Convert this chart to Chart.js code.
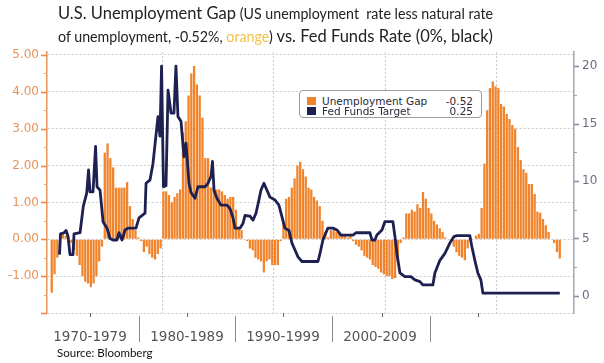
<!DOCTYPE html>
<html><head><meta charset="utf-8">
<script src="https://cdn.jsdelivr.net/npm/chart.js@4.4.1/dist/chart.umd.min.js"></script>
<style>
html,body{margin:0;padding:0;background:#fff;width:604px;height:363px;overflow:hidden;position:relative}
#c{position:absolute;left:0;top:0}
.title{position:absolute;left:58px;white-space:nowrap;font-family:Lato,sans-serif;color:#222;transform-origin:0 0;line-height:20px}
.big{font-size:18px}
.sm{font-size:15.5px}
#legend{position:absolute;left:299px;top:90px;width:181px;height:26px;border:1.5px solid #9c9c9c;border-radius:4px;background:#fff;font-family:'DejaVu Sans',sans-serif;font-size:10.5px;color:#2a2a38}
.row{position:absolute;left:0;right:0;height:11px;line-height:11px}
.sw{position:absolute;left:7px;top:1px;width:9px;height:8px}
.lab{position:absolute;left:22px}
.val{position:absolute;right:8px}
.dec{position:absolute;top:327px;width:96px;text-align:center;font-family:'DejaVu Sans',sans-serif;font-size:13.5px;color:#555;line-height:18px}
.sep{position:absolute;top:316px;width:1px;height:26px;background:#8a8a8a}
.btk{position:absolute;top:313px;width:1px;height:4px;background:#666}
#src{position:absolute;left:57px;top:346px;font-family:Lato,sans-serif;font-size:11.5px;color:#111}
</style></head><body>
<canvas id="c" width="604" height="363"></canvas>
<div id="t1" class="title" style="top:2px"><span class="big">U.S. Unemployment Gap</span> <span class="sm">(US unemployment&nbsp; rate less natural rate</span></div>
<div id="t2" class="title" style="top:25px"><span class="sm">of unemployment, -0.52%, <span style="color:#f2c04a">orange</span>)</span><span class="big"> vs. Fed Funds Rate (0%, black)</span></div>
<div id="legend">
 <div class="row" style="top:5px"><span class="sw" style="background:#f0842c"></span><span class="lab">Unemployment Gap</span><span class="val" id="v1"></span></div>
 <div class="row" style="top:15px"><span class="sw" style="background:#1d2050"></span><span class="lab">Fed Funds Target</span><span class="val" id="v2"></span></div>
</div>
<div id="bottom"></div>
<div id="src">Source: Bloomberg</div>
<script>
// ---- DATA ----
const gapStartYear = 1970; // quarterly, first value = 1970 Q1
const gapQuarterly = [
 -1.45,-0.95,-0.5,0.15, 0.15,0.1,0.05,-0.1, -0.3,-0.45,-0.7,-1.0, -1.15,-1.2,-1.3,-1.2, -1.0,-0.6,-0.2,2.35,
 2.6,2.2,1.95,1.4, 1.4,1.4,1.4,1.55, 0.9,0.55,0.25,0.05, -0.05,-0.35,-0.2,-0.4, -0.5,-0.55,-0.4,-0.25,
 1.3,1.3,1.2,1.0, 1.15,1.25,1.35,2.9, 3.2,3.9,4.5,4.7, 4.2,3.9,3.3,2.2, 2.2,1.4,1.4,1.35,
 1.35,1.3,1.2,1.1, 1.15,1.15,0.8,0.3, 0.25,0.0,-0.05,-0.25, -0.3,-0.5,-0.55,-0.6, -0.9,-0.6,-0.55,-0.7,
 -0.7,-0.7,-0.05,0.45, 1.1,1.15,1.4,1.65, 2.0,2.1,1.9,1.7, 1.4,1.35,1.15,1.05, 0.9,0.5,0.2,0.05,
 0.25,0.25,0.2,0.2, 0.1,0.1,0.05,0.15, -0.05,-0.15,-0.2,-0.3, -0.45,-0.5,-0.55,-0.7, -0.75,-0.8,-0.9,-0.95,
 -1.0,-1.0,-1.08,-1.05, -0.6,-0.1,0.05,0.7, 0.7,0.8,0.75,0.95, 0.85,1.28,1.1,0.85, 0.7,0.5,0.4,0.3,
 0.2,0.05,0.0,-0.05, -0.2,-0.35,-0.45,-0.5, -0.57,-0.25,-0.05,0.0, 0.1,0.15,0.85,2.05, 3.5,4.1,4.28,4.15,
 4.1,3.67,3.6,3.4, 3.26,3.1,3.0,2.5, 2.15,1.9,1.8,1.5, 1.5,1.23,0.75,0.72, 0.55,0.38,0.2,0.0,
 -0.1,-0.35,-0.52
];
const fedDates = [1970.82,1970.91,1971.23,1971.41,1971.58,1971.76,1972.03,1972.12,1972.66,1972.95,
 1973.26,1973.42,1973.55,1973.82,1974.05,1974.18,1974.45,1974.72,1975.08,1975.34,
 1975.61,1975.97,1976.15,1976.42,1976.69,1976.96,1977.67,1977.94,1978.48,1978.57,
 1978.93,1979.19,1979.64,1979.82,1979.96,1980.13,1980.36,1980.54,1980.81,1981.07,
 1981.25,1981.43,1981.70,1981.97,1982.15,1982.42,1982.60,1982.95,1983.22,1983.85,
 1984.12,1984.39,1984.52,1984.66,1984.92,1985.28,1985.82,1986.09,1986.36,1986.54,
 1986.98,1987.25,1987.43,1987.88,1988.15,1988.42,1988.68,1988.86,1989.13,1989.40,
 1989.67,1990.12,1990.47,1990.74,1991.01,1991.37,1991.64,1991.91,1992.18,1992.53,
 1993.97,1994.15,1994.41,1994.68,1994.86,1995.31,1995.67,1996.03,1997.10,1997.37,
 1998.62,1998.80,1999.07,1999.25,1999.70,1999.96,2000.68,2000.86,2001.04,2001.31,
 2001.75,2002.29,2002.65,2003.10,2003.37,2004.26,2004.44,2004.89,2005.34,2005.78,
 2006.14,2006.41,2007.57,2007.75,2008.02,2008.29,2008.56,2008.74,2015.63];
const fedRates = [3.6,5.4,5.5,5.7,5.2,3.6,3.6,5.4,5.5,7.8,
 8.96,10.96,9.05,9.05,13.0,9.5,9.2,6.46,5.9,5.0,
 4.87,4.87,5.5,4.87,5.74,5.9,5.9,6.8,7.2,9.8,
 10.1,11.5,15.6,13.9,20,9.5,9.6,17.9,15.9,15.9,
 20,15.6,15.2,12.1,13.3,9.8,9.0,8.5,9.5,9.5,
 9.8,10.4,11.7,9.2,8.5,7.9,7.9,7.6,6.8,5.9,
 5.9,6.3,7.0,6.95,6.6,7.2,8.35,9.2,9.8,9.2,
 8.6,8.35,7.9,6.9,5.9,5.7,4.6,4.0,3.4,3.0,
 3.0,3.7,4.87,5.5,5.9,5.9,5.74,5.3,5.3,5.5,
 5.5,4.87,4.87,5.3,5.74,6.46,6.46,5.2,3.7,2.0,
 1.68,1.68,1.4,1.25,0.96,0.96,2.0,3.1,3.7,4.6,
 5.16,5.25,5.25,4.3,3.1,2.0,1.4,0.25,0.25];
const leftTicks = [-2,-1,0,1,2,3,4,5];
const leftMinor = [-1.5,-0.5,0.5,1.5,2.5,3.5,4.5];
const rightTicks = [0,5,10,15,20];
const rightMinor = [2.5,7.5,12.5,17.5];
const gridYears = [1980,1990,2000,2010];
const decadeLabels = ['1970-1979','1980-1989','1990-1999','2000-2009'];
const seriesNames = ['Unemployment Gap','Fed Funds Target'];

// ---- overlays ----
document.getElementById('v1').textContent = gapQuarterly[gapQuarterly.length-1].toFixed(2);
document.getElementById('v2').textContent = fedRates[fedRates.length-1].toFixed(2);
document.querySelectorAll('#legend .lab').forEach((e,i)=>e.textContent=seriesNames[i]);
const bottom = document.getElementById('bottom');
const decCenters = [90,187,283,380], seps=[139,235,332,430], btks=[90,187,283,382,478];
decadeLabels.forEach((t,i)=>{const d=document.createElement('div');d.className='dec';d.style.left=(decCenters[i]-48)+'px';d.textContent=t;bottom.appendChild(d);});
seps.forEach(x=>{const d=document.createElement('div');d.className='sep';d.style.left=x+'px';bottom.appendChild(d);});
btks.forEach(x=>{const d=document.createElement('div');d.className='btk';d.style.left=x+'px';bottom.appendChild(d);});
['t1','t2'].forEach(id=>{const e=document.getElementById(id);const w=e.getBoundingClientRect().width;e.style.transform='scaleX('+(435/w)+')';});

// ---- chart ----
const gapPoints = gapQuarterly.map((v,i)=>({x: gapStartYear + 0.125 + i/4, y: v}));
const fedPoints = fedDates.map((d,i)=>({x: d, y: fedRates[i]}));

const tickMarks = {
  id:'tickMarks',
  afterDraw(chart){
    const {ctx, chartArea:a, scales:{y, y1}} = chart;
    ctx.save();
    const draw=(scale,vals,x0,len,color,w)=>{ctx.strokeStyle=color;ctx.lineWidth=w;
      vals.forEach(v=>{const p=Math.round(scale.getPixelForValue(v))+0.5;ctx.beginPath();ctx.moveTo(x0,p);ctx.lineTo(x0+len,p);ctx.stroke();});};
    draw(y,leftTicks,a.left,-6,'#ec8a4a',1.6);
    draw(y,leftMinor,a.left,-3,'#eaa57c',1);
    draw(y1,rightTicks,a.right,5,'#8a8fa3',1.6);
    draw(y1,rightMinor,a.right,3,'#a0a4b6',1);
    ctx.restore();
  }
};

new Chart(document.getElementById('c'), {
  data: {
    datasets: [
      {type:'bar', label:seriesNames[0], data:gapPoints, yAxisID:'y', xAxisID:'x',
       backgroundColor:'#f0842c', borderWidth:0, barPercentage:0.82, categoryPercentage:1.0, order:1},
      {type:'line', label:seriesNames[1], data:fedPoints, yAxisID:'y1', xAxisID:'x',
       borderColor:'#1d2050', borderWidth:2.8, pointRadius:0, tension:0, borderJoinStyle:'round', order:0}
    ]
  },
  options: {
    responsive:false, animation:false,
    layout:{padding:{top:52,bottom:50,left:0,right:0}},
    plugins:{legend:{display:false}, tooltip:{enabled:false}, title:{display:false}},
    scales:{
      x:{type:'linear', min:1969.7, max:2016.9, offset:false,
         afterBuildTicks:s=>{s.ticks=gridYears.map(v=>({value:v}));},
         ticks:{display:false},
         grid:{color:'#cccccc', lineWidth:1, drawTicks:false, offset:false},
         border:{display:false, dash:[2,2]},
         afterFit:s=>{s.height=0;}},
      y:{position:'left', min:-2, max:5.08,
         afterBuildTicks:s=>{s.ticks=leftTicks.map(v=>({value:v}));},
         ticks:{callback:v=> v===-2 ? '' : v.toFixed(2), color:'#e9925a', font:{family:'DejaVu Sans', size:12}, padding:8},
         grid:{color:'#cccccc', lineWidth:1, drawTicks:false},
         border:{display:true, color:'#ee9a62', width:1.6, dash:[2,2]},
         afterFit:s=>{s.width=47;}},
      y1:{position:'right', min:-1.48, max:21.22,
         afterBuildTicks:s=>{s.ticks=rightTicks.map(v=>({value:v}));},
         ticks:{color:'#6a6e80', font:{family:'DejaVu Sans', size:12}, padding:8},
         grid:{display:false, drawTicks:false},
         border:{display:true, color:'#a6aabb', width:1.6},
         afterFit:s=>{s.width=30;}}
    }
  },
  plugins:[tickMarks]
});
</script>
</body></html>
